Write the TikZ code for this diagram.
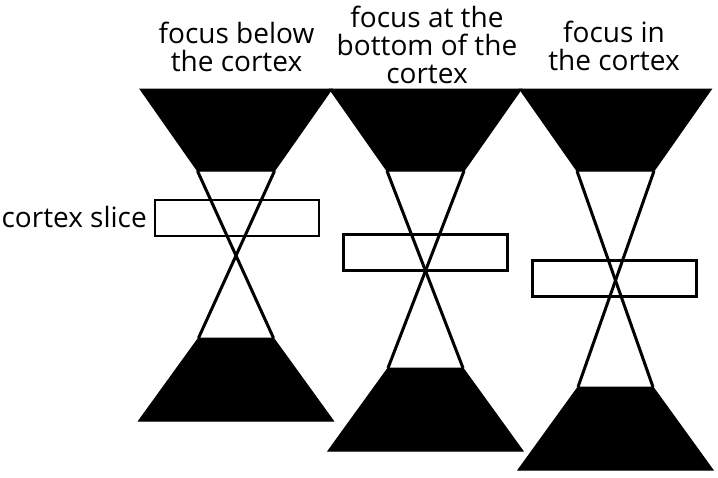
\documentclass[tikz,border=0pt]{standalone}
\usepackage{fontspec}
\setmainfont{Open Sans}
\begin{document}
\begin{tikzpicture}[x=1pt,y=-1pt,
  cone/.style={fill=black,draw=black,line width=1pt,line join=miter},
  ray/.style={draw=black,line width=3pt},
  slice/.style={draw=black,line width=2.2pt,minimum width=164pt,minimum height=36pt,inner sep=0pt},
  title/.style={font=\fontsize{28}{28}\selectfont,align=center,inner sep=0pt,anchor=north},
  lbl/.style={font=\fontsize{28}{28}\selectfont,inner sep=0pt}]
\useasboundingbox (0,0) rectangle (718,477);

% slices
\node[slice] (s1) at (237,218) {};
\node[slice] (s2) at (425.5,252.5) {};
\node[slice] (s3) at (614.5,278.5) {};

% cones and rays
\foreach \c/\b in {236/338, 425.5/368, 615.5/387}{
  \fill[cone] (\c-96,89) -- (\c+96,89) -- (\c+38.5,171) -- (\c-38.5,171) -- cycle;
  \fill[cone] (\c-37.5,\b) -- (\c+37.5,\b) -- (\c+97.5,\b+83) -- (\c-97.5,\b+83) -- cycle;
  \draw[ray] (\c-38.5,171) -- (\c+37.5,\b);
  \draw[ray] (\c+38.5,171) -- (\c-37.5,\b);
}

% titles
\node[title] (t1) at (236.5,21.5) {focus below\\the cortex};
\node[title] (t2) at (427,5.5) {focus at the\\bottom of the\\cortex};
\node[title] (t3) at (614,21) {focus in\\the cortex};
\node[lbl,anchor=base east] (cs) at (147,227) {cortex slice};
\end{tikzpicture}
\end{document}
